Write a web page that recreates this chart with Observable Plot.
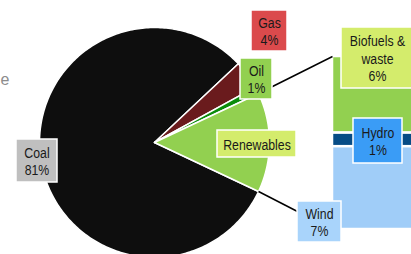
<!DOCTYPE html>
<html><head><meta charset="utf-8">
<script src="https://cdn.jsdelivr.net/npm/d3@7"></script>
<script src="https://cdn.jsdelivr.net/npm/@observablehq/plot@0.6"></script>
<style>
body{margin:0;background:#fff}
#chart{width:411px;height:254px;overflow:hidden;position:relative}
#chart svg{overflow:hidden}
</style>
</head><body><div id="chart"></div>
<script>
// ---- data ----
const sources = ["Coal", "Gas", "Oil", "Renewables"];
const shares = [81, 4, 1, 14];
const sourceLabels = ["Coal\n81%", "Gas\n4%", "Oil\n1%", "Renewables"];
const renewables = ["Biofuels & waste", "Hydro", "Wind"];
const renewableShares = [6.2, 1.1, 6.7];
const renewableLabels = ["Biofuels &\nwaste\n6%", "Hydro\n1%", "Wind\n7%"];
const titleFragment = "e";

// ---- styles / layout ----
const sliceColors = {Coal: "#0e0e0e", Gas: "#6a1b1d", Oil: "#0a8c0a", Renewables: "#92d050"};
const barColors = {"Biofuels & waste": "#92d050", Hydro: "#064c86", Wind: "#a0cdf8"};
const W = 411, H = 254, CX = 154, CY = 142, R = 115; // pie centre & radius in px
const X = px => (px - CX) / R, Y = py => (CY - py) / R;
const font = "'Liberation Sans',Arial,sans-serif";
const narrow = 0.82; // emulate Arial Narrow
// label boxes: centre & size in px
const labelLayout = {
  "Coal": {cx: 36.5, cy: 160.5, w: 41, h: 43, fill: "#bfbfbf"},
  "Gas": {cx: 269, cy: 30.5, w: 36, h: 41, fill: "#db4a4c"},
  "Oil": {cx: 256, cy: 78.5, w: 32, h: 41, fill: "#92d050"},
  "Renewables": {cx: 256.5, cy: 143.5, w: 79, h: 27, fill: "#d4ec6c"},
  "Biofuels & waste": {cx: 377, cy: 57.5, w: 72, h: 61, fill: "#d4ec6c"},
  "Hydro": {cx: 377.5, cy: 140.5, w: 49, h: 45, fill: "#3a9cf6"},
  "Wind": {cx: 319, cy: 221.5, w: 44, h: 41, fill: "#a9d4fb"}
};

// ---- pie geometry (math degrees, clockwise = decreasing) ----
const total = d3.sum(shares);
const renewShare = shares[sources.indexOf("Renewables")];
let ang = -renewShare / total * 360 / 2;
const slices = [];
const pieData = [];
sources.forEach((s, i) => {
  const a0 = ang, a1 = ang - shares[i] / total * 360;
  ang = a1;
  slices.push({s, a0, a1});
  const n = Math.max(2, Math.ceil(Math.abs(a1 - a0)));
  pieData.push({s, x: 0, y: 0});
  for (let k = 0; k <= n; k++) {
    const t = (a0 + (a1 - a0) * k / n) * Math.PI / 180;
    pieData.push({s, x: Math.cos(t), y: Math.sin(t)});
  }
});
const ren = slices.find(d => d.s === "Renewables");

// ---- bar geometry ----
const barLeft = X(332), barRight = X(470), barTop = Y(56), barBottom = Y(229);
const barUnit = (barTop - barBottom) / d3.sum(renewableShares);
let cum = 0;
const barData = renewables.map((r, i) => {
  const y1 = barTop - cum * barUnit;
  cum += renewableShares[i];
  return {r, y1, y2: barTop - cum * barUnit};
});

// connectors from the renewables slice edges to the bar corners
const rad = a => a * Math.PI / 180;
const connectors = [
  {x1: Math.cos(rad(ren.a0)), y1: Math.sin(rad(ren.a0)), x2: barLeft, y2: barTop},
  {x1: Math.cos(rad(ren.a1)), y1: Math.sin(rad(ren.a1)), x2: barLeft, y2: barBottom}
];

// labels
const labels = [
  ...sources.map((s, i) => ({key: s, text: sourceLabels[i]})),
  ...renewables.map((r, i) => ({key: r, text: renewableLabels[i]}))
].map(d => {
  const L = labelLayout[d.key];
  return {...d, fill: L.fill, x1: X(L.cx - L.w / 2), x2: X(L.cx + L.w / 2),
          y1: Y(L.cy - L.h / 2), y2: Y(L.cy + L.h / 2), x: X(L.cx), y: Y(L.cy)};
});

const chart = Plot.plot({
  width: W, height: H, margin: 0,
  x: {domain: [X(0), X(W)], axis: null},
  y: {domain: [Y(H), Y(0)], axis: null},
  color: {type: "identity"},
  style: {background: "white", overflow: "hidden"},
  marks: [
    Plot.line(pieData, {x: "x", y: "y", z: "s", fill: d => sliceColors[d.s], stroke: "white", strokeWidth: 1.5, curve: "linear-closed"}),
    Plot.rect(barData, {x1: barLeft, x2: barRight, y1: "y1", y2: "y2", fill: d => barColors[d.r], stroke: "white", strokeWidth: 2.5}),
    Plot.link(connectors, {x1: "x1", y1: "y1", x2: "x2", y2: "y2", stroke: "black", strokeWidth: 1.5}),
    Plot.rect(labels, {x1: "x1", x2: "x2", y1: "y1", y2: "y2", fill: "fill", stroke: "white", strokeWidth: 1.5}),
    Plot.text(labels, {x: "x", y: "y", text: "text", fontSize: 15, lineHeight: 1.17, fontFamily: font, fill: "#1a1a1a", className: "narrow-label"}),
    Plot.text([titleFragment], {x: X(9), y: Y(79), text: d => d, textAnchor: "end", fontSize: 16, fontFamily: font, fill: "#8c8c8c"})
  ]
});
// condense label text horizontally around each anchor point
chart.querySelectorAll(".narrow-label text").forEach(t => {
  const tr = t.getAttribute("transform");
  if (tr) {
    t.setAttribute("transform", tr + ` scale(${narrow},1)`);
  } else {
    const x = +t.getAttribute("x") || 0;
    t.setAttribute("transform", `translate(${x},0) scale(${narrow},1) translate(${-x},0)`);
  }
});
document.getElementById("chart").append(chart);
</script>
</body></html>
